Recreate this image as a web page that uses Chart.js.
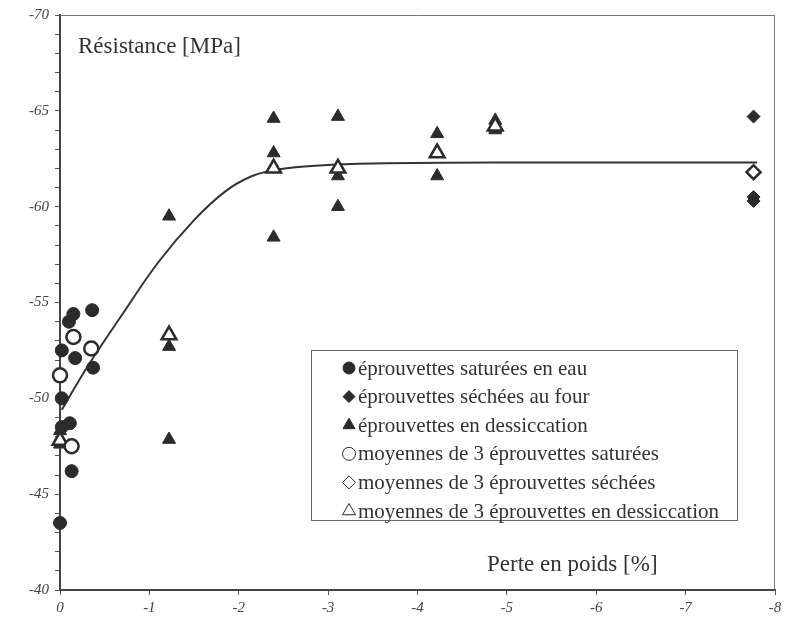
<!DOCTYPE html>
<html>
<head>
<meta charset="utf-8">
<script src="https://cdn.jsdelivr.net/npm/chart.js@4.4.1/dist/chart.umd.min.js"></script>
<style>
  html, body { margin: 0; padding: 0; background: #fff; }
  #wrap { width: 786px; height: 623px; position: relative; }
</style>
</head>
<body>
<div id="wrap"><canvas id="myChart"></canvas></div>
<script>
// weight loss [%] (negative) / strength [MPa] (negative)
const satX = [-0.36, -0.15, -0.10, -0.02, -0.17, -0.37, -0.02, -0.11, -0.02, -0.13, 0.0]
const satY = [-54.6, -54.4, -54.0, -52.5, -52.1, -51.6, -50.0, -48.7, -48.5, -46.2, -43.5]

const dryX = [-7.76, -7.76, -7.76]
const dryY = [-64.7, -60.5, -60.3]

const desX = [0.0, 0.0, -1.22, -1.22, -1.22, -2.39, -2.39, -2.39, -3.11, -3.11, -3.11, -4.22, -4.22, -4.22, -4.87, -4.87, -4.87]
const desY = [-48.3, -47.6, -59.5, -52.7, -47.85, -64.6, -62.8, -58.4, -64.7, -61.6, -60.0, -63.8, -62.9, -61.6, -64.5, -64.1, -64.0]

const satAvgX = [-0.15, -0.35, 0.0, -0.13]
const satAvgY = [-53.2, -52.6, -51.2, -47.5]

const dryAvgX = [-7.76]
const dryAvgY = [-61.8]

const desAvgX = [0.0, -1.22, -2.39, -3.11, -4.22, -4.87]
const desAvgY = [-47.8, -53.3, -62.0, -62.0, -62.8, -64.2]

const fitX = [-0.02, -0.3, -0.7, -1.1, -1.5, -1.85, -2.15, -2.45, -2.9, -3.5, -5.0, -7.8]
const fitY = [-49.4, -51.6, -54.4, -57.1, -59.3, -60.8, -61.6, -61.95, -62.15, -62.25, -62.3, -62.3]

const xTicks = [0, -1, -2, -3, -4, -5, -6, -7, -8]

const ink = '#2b2b2b'
const pts = (xs, ys) => xs.map((x, i) => ({ x: x, y: ys[i] }))

const legendRows = [
  { label: 'éprouvettes saturées en eau', style: 'circle', open: false, r: 6 },
  { label: 'éprouvettes séchées au four', style: 'rectRot', open: false, r: 6 },
  { label: 'éprouvettes en dessiccation', style: 'triangle', open: false, r: 7 },
  { label: 'moyennes de 3 éprouvettes saturées', style: 'circle', open: true, r: 6.5 },
  { label: 'moyennes de 3 éprouvettes séchées', style: 'rectRot', open: true, r: 6.5 },
  { label: 'moyennes de 3 éprouvettes en dessiccation', style: 'triangle', open: true, r: 7.5 }
]

const serif = '"Liberation Serif", "DejaVu Serif", serif'

const framePlugin = {
  id: 'frame',
  beforeDatasetsDraw(chart) {
    const { ctx, chartArea: a } = chart
    ctx.save()
    ctx.strokeStyle = '#777'
    ctx.lineWidth = 1
    ctx.beginPath()
    ctx.moveTo(a.left, a.top + 0.5)
    ctx.lineTo(a.right - 0.5, a.top + 0.5)
    ctx.lineTo(a.right - 0.5, a.bottom)
    ctx.stroke()
    ctx.restore()
  },
  afterDraw(chart) {
    const { ctx, chartArea: a } = chart
    ctx.save()
    ctx.fillStyle = '#333'
    ctx.font = '23px ' + serif
    ctx.textBaseline = 'alphabetic'
    ctx.fillText('Résistance [MPa]', a.left + 18, a.top + 38)
    ctx.fillText('Perte en poids [%]', a.left + 427, a.bottom - 19)

    // legend box
    const bx = a.left + 251, by = a.top + 335, bw = 426, bh = 170
    ctx.strokeStyle = '#666'
    ctx.lineWidth = 1
    ctx.strokeRect(bx + 0.5, by + 0.5, bw, bh)
    ctx.font = '21px ' + serif
    ctx.textBaseline = 'middle'
    legendRows.forEach((row, i) => {
      const cy = by + 18 + i * 28.6
      const cx = bx + 38
      ctx.fillStyle = row.open ? '#fff' : ink
      ctx.strokeStyle = ink
      Chart.helpers.drawPoint(ctx, {
        pointStyle: row.style,
        radius: row.r,
        rotation: 0,
        borderWidth: row.open ? 2.5 : 1
      }, cx, cy)
      ctx.fillStyle = '#333'
      ctx.fillText(row.label, cx + 9, cy + 1)
    })
    ctx.restore()
  }
}

const ctx = document.getElementById('myChart')
new Chart(ctx, {
  type: 'scatter',
  data: {
    datasets: [
      { label: 'moyennes de 3 éprouvettes saturées', data: pts(satAvgX, satAvgY), pointStyle: 'circle', pointRadius: 7, backgroundColor: '#fff', borderColor: ink, borderWidth: 2.5, order: 0 },
      { label: 'moyennes de 3 éprouvettes séchées', data: pts(dryAvgX, dryAvgY), pointStyle: 'rectRot', pointRadius: 7, backgroundColor: '#fff', borderColor: ink, borderWidth: 2.5, order: 0 },
      { label: 'moyennes de 3 éprouvettes en dessiccation', data: pts(desAvgX, desAvgY), pointStyle: 'triangle', pointRadius: 8.5, backgroundColor: '#fff', borderColor: ink, borderWidth: 2.5, order: 0 },
      { label: 'éprouvettes saturées en eau', data: pts(satX, satY), pointStyle: 'circle', pointRadius: 6.5, backgroundColor: ink, borderColor: ink, borderWidth: 1, order: 1 },
      { label: 'éprouvettes séchées au four', data: pts(dryX, dryY), pointStyle: 'rectRot', pointRadius: 6.5, backgroundColor: ink, borderColor: ink, borderWidth: 1, order: 1 },
      { label: 'éprouvettes en dessiccation', data: pts(desX, desY), pointStyle: 'triangle', pointRadius: 7.5, backgroundColor: ink, borderColor: ink, borderWidth: 1, order: 1 },
      { type: 'line', label: 'courbe', data: pts(fitX, fitY), showLine: true, pointRadius: 0, borderColor: '#333', borderWidth: 2, fill: false, tension: 0.4, order: 2 }
    ]
  },
  options: {
    responsive: true,
    maintainAspectRatio: false,
    animation: false,
    devicePixelRatio: 1,
    clip: false,
    layout: { padding: { top: 8, right: -3, left: 0, bottom: 0 } },
    plugins: {
      legend: { display: false },
      tooltip: { enabled: false }
    },
    scales: {
      x: {
        type: 'linear',
        min: -8,
        max: 0,
        reverse: true,
        afterFit: s => { s.height = 33 },
        afterBuildTicks: s => { s.ticks = xTicks.map(v => ({ value: v })) },
        ticks: {
          color: '#444',
          font: { family: serif, size: 15, style: 'italic' },
          padding: 4,
          callback: v => String(v)
        },
        grid: { display: true, drawOnChartArea: false, drawTicks: true, tickLength: 5, color: '#555', lineWidth: 1 },
        border: { display: true, color: '#444', width: 2 }
      },
      y: {
        type: 'linear',
        min: -70,
        max: -40,
        reverse: true,
        afterFit: s => { s.width = 60 },
        ticks: {
          stepSize: 1,
          autoSkip: false,
          color: '#444',
          font: { family: serif, size: 15, style: 'italic' },
          padding: 6,
          callback: v => (v % 5 === 0 ? String(v) : '')
        },
        grid: { display: true, drawOnChartArea: false, drawTicks: true, tickLength: 5, color: '#555', lineWidth: 1 },
        border: { display: true, color: '#444', width: 2 }
      }
    }
  },
  plugins: [framePlugin]
})
</script>
</body>
</html>
